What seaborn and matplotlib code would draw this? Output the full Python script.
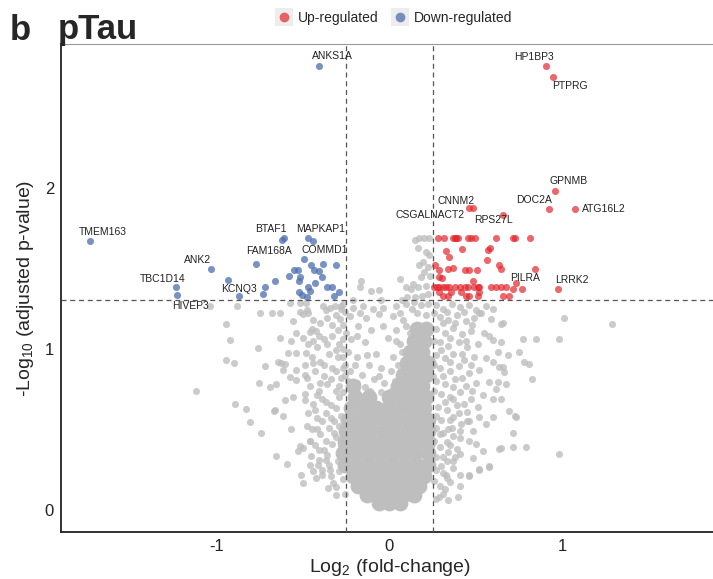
import pandas as pd
import seaborn as sns
import matplotlib.pyplot as plt
from matplotlib.lines import Line2D
from matplotlib.patches import Rectangle

sns.set_style("white")
plt.rcParams['font.family'] = ['Liberation Sans', 'DejaVu Sans']
plt.rcParams['mathtext.fontset'] = 'custom'
plt.rcParams['mathtext.rm'] = 'Liberation Sans'
plt.rcParams['axes.unicode_minus'] = False

# ---- data ----
# dense grey core of non-significant genes
core_x = [-0.06, 0.0, 0.06,
          -0.13, -0.06, 0.01, 0.08, 0.14,
          -0.18, -0.11, -0.04, 0.03, 0.10, 0.17,
          -0.21, -0.14, -0.07, 0.0, 0.07, 0.14, 0.20,
          -0.26, -0.19, -0.12, -0.05, 0.02, 0.09, 0.16, 0.22,
          -0.27, -0.20, -0.13, -0.06, 0.01, 0.08, 0.15, 0.22,
          -0.26, -0.19, -0.12, -0.05, 0.02, 0.09, 0.16, 0.22,
          -0.25, -0.18, -0.11, -0.04, 0.03, 0.10, 0.17, 0.22,
          -0.24, -0.17, -0.10, -0.03, 0.04, 0.11, 0.18, 0.22,
          -0.22, -0.15, -0.08, -0.01, 0.06, 0.13, 0.20,
          -0.20, -0.12, 0.0, 0.07, 0.14, 0.21,
          -0.21, 0.05, 0.12, 0.19,
          0.08, 0.15, 0.21,
          0.10, 0.17, 0.22,
          0.12, 0.19,
          0.14, 0.20,
          0.16, 0.21]
core_y = [0.04, 0.04, 0.04,
          0.09, 0.09, 0.09, 0.09, 0.09,
          0.15, 0.15, 0.15, 0.15, 0.15, 0.15,
          0.21, 0.21, 0.21, 0.21, 0.21, 0.21, 0.21,
          0.28, 0.28, 0.28, 0.28, 0.28, 0.28, 0.28, 0.28,
          0.35, 0.35, 0.35, 0.35, 0.35, 0.35, 0.35, 0.35,
          0.42, 0.42, 0.42, 0.42, 0.42, 0.42, 0.42, 0.42,
          0.49, 0.49, 0.49, 0.49, 0.49, 0.49, 0.49, 0.49,
          0.56, 0.56, 0.56, 0.56, 0.56, 0.56, 0.56, 0.56,
          0.63, 0.63, 0.63, 0.63, 0.63, 0.63, 0.63,
          0.70, 0.70, 0.70, 0.70, 0.70, 0.70,
          0.77, 0.77, 0.77, 0.77,
          0.84, 0.84, 0.84,
          0.91, 0.91, 0.91,
          0.98, 0.98,
          1.05, 1.05,
          1.12, 1.12]

# scattered grey points
grey_x = [-1.117, -1.04, -0.944, -0.925, -0.944, -0.900, -0.880, -0.896,
          -0.828, -0.805, -0.761, -0.757, -0.746, -0.751, -0.719, -0.694,
          -0.678, -0.636, -0.646, -0.626, -0.603, -0.636, -0.617, -0.655,
          -0.670, -0.665, -0.655, -0.617, -0.607, -0.594, -0.588, -0.578,
          -0.568, -0.568, -0.559, -0.559, -0.539, -0.539, -0.539, -0.539,
          -0.578, -0.520, -0.516, -0.501, -0.501, -0.501, -0.491, -0.491,
          -0.482, -0.482, -0.472, -0.462, -0.443, -0.424, -0.520, -0.510,
          -0.501, -0.462, -0.462, -0.453, -0.424, -0.414, -0.389, -0.385,
          -0.366, -0.357, -0.347, -0.347, -0.328, -0.308, -0.279, -0.530,
          -0.44, -0.40, -0.36, -0.31, -0.27, -0.42, -0.38, -0.33,
          -0.29, -0.45, -0.40, -0.35, -0.30, -0.26, -0.43, -0.38,
          -0.33, -0.28, -0.46, -0.41, -0.36, -0.31, -0.44, -0.39,
          -0.34, -0.29, -0.47, -0.42, -0.37, -0.32, -0.45, -0.40,
          -0.35, -0.31, -0.43, -0.38, -0.33, -0.41, -0.36,
          -0.48, -0.45, -0.37, -0.33, -0.28, -0.47, -0.41, -0.36, -0.31, -0.27,
          -0.49, -0.44, -0.38, -0.31, -0.27, -0.48, -0.40, -0.34, -0.29, -0.26,
          -0.49, -0.42, -0.37, -0.31, -0.28, -0.43, -0.39, -0.34, -0.29, -0.48,
          -0.42, -0.37, -0.32, -0.28, -0.46, -0.41, -0.35, -0.30, -0.44, -0.39,
          -0.34, -0.31, -0.27, -0.26, -0.29,
          -0.318, -0.270, -0.212, -0.154, -0.096, -0.039, 0.039, 0.096,
          -0.231, -0.135, -0.058, 0.019, -0.289, -0.299, -0.183, -0.106,
          -0.039, 0.039, 0.096, -0.22, -0.14, -0.01, 0.06, -0.24,
          -0.19, -0.08, 0.02, -0.12, -0.05, -0.23, -0.16, 0.01,
          -0.09, -0.03, -0.24, -0.14,
          -0.21, -0.05, 0.07, 0.13, 0.06, -0.17, -0.26, 0.08, 0.12, 0.04,
          -0.25, -0.19, -0.27, 0.07, -0.13, 0.05, -0.20, -0.27, -0.06, 0.03,
          -0.19, -0.11, -0.27, -0.05, 0.01,
          -0.164, -0.170, -0.106, -0.058, 0.062, 0.096, 0.125, 0.145,
          0.173, 0.202, 0.231, 0.164, 0.212, 0.231, 0.193, 0.173,
          0.202, 0.183, 0.212, 0.164, 0.135, 0.222, 0.190, 0.150,
          0.100, 0.235, 0.225, 0.140, 0.180, 0.220, 0.160, 0.210,
          0.655, 0.530, 0.646, 0.626, 0.684, 0.655, 0.665, 0.578,
          0.626, 0.674, 0.597, 0.646, 0.694, 0.723, 0.597, 0.617,
          0.559, 0.597, 0.578, 0.597, 0.549, 0.646, 0.588, 0.520,
          0.559, 0.597, 1.012, 0.983, 0.848, 0.771, 0.780, 0.809,
          0.825, 0.751, 0.713, 0.790, 0.713, 0.983, 0.645, 0.578,
          0.520, 0.405, 0.395, 0.462, 1.285, 0.366, 0.414, 0.462,
          0.520, 0.559, 0.482, 0.405, 0.462, 0.501, 0.539, 0.405,
          0.482, 0.366, 0.328, 0.405, 0.520, 0.578, 0.636, 0.732,
          0.289, 0.366, 0.462, 0.636,
          0.27, 0.31, 0.36, 0.41, 0.46, 0.29, 0.34, 0.39,
          0.44, 0.49, 0.27, 0.32, 0.37, 0.42, 0.47, 0.29,
          0.34, 0.40, 0.45, 0.51, 0.27, 0.32, 0.37, 0.43,
          0.49, 0.29, 0.35, 0.40, 0.46, 0.52, 0.27, 0.32,
          0.38, 0.44, 0.50, 0.30, 0.35, 0.41, 0.47, 0.54,
          0.28, 0.33, 0.39, 0.45, 0.51, 0.30, 0.34, 0.29,
          0.33, 0.37, 0.29, 0.31, 0.34, 0.30, 0.33, 0.29, 0.31,
          0.26, 0.33, 0.38, 0.43, 0.50, 0.26, 0.31, 0.35, 0.44, 0.48,
          0.26, 0.30, 0.35, 0.42, 0.47, 0.25, 0.31, 0.37, 0.42, 0.48,
          0.26, 0.32, 0.37, 0.43, 0.27, 0.35, 0.40, 0.45, 0.27, 0.31,
          0.36, 0.41, 0.26, 0.35, 0.39, 0.27, 0.33, 0.38, 0.27, 0.31,
          0.35, 0.26, 0.32, 0.27, 0.34]
grey_y = [0.738, 1.266, 1.157, 1.052, 0.931, 0.914, 1.266, 0.654,
          0.627, 0.543, 1.004, 0.788, 0.480, 1.220, 0.893, 0.763,
          1.220, 1.224, 0.920, 0.910, 0.906, 1.067, 0.868, 0.784,
          0.616, 0.621, 0.333, 0.585, 0.679, 0.285, 0.973, 0.826,
          1.046, 0.501, 1.172, 0.700, 1.099, 0.973, 0.868, 0.805,
          1.287, 1.283, 1.228, 1.214, 1.067, 0.386, 0.836, 0.721,
          0.973, 1.287, 1.220, 1.103, 1.046, 1.109, 0.396, 0.218,
          0.165, 0.281, 0.428, 0.333, 0.197, 0.281, 0.218, 1.266,
          0.312, 0.134, 0.250, 1.256, 0.165, 0.092, 1.266, 0.365,
          1.18, 1.16, 1.19, 1.21, 1.15, 1.01, 1.06, 1.08,
          1.03, 0.95, 0.92, 0.97, 0.95, 0.90, 0.86, 0.83,
          0.88, 0.82, 0.77, 0.74, 0.78, 0.74, 0.66, 0.69,
          0.65, 0.70, 0.60, 0.57, 0.60, 0.55, 0.50, 0.47,
          0.51, 0.45, 0.40, 0.37, 0.41, 0.31, 0.34,
          1.24, 1.12, 1.24, 1.15, 1.25, 1.03, 1.08, 1.03, 0.99, 1.06,
          0.90, 0.91, 0.90, 0.86, 0.95, 0.82, 0.79, 0.81, 0.77, 0.84,
          0.68, 0.71, 0.67, 0.63, 0.58, 0.62, 0.55, 0.57, 0.52, 0.52,
          0.50, 0.43, 0.48, 0.40, 0.43, 0.37, 0.28, 0.30, 0.24, 0.25,
          0.21, 0.14, 0.19, 0.10, 0.24,
          1.266, 1.277, 1.256, 1.266, 1.245, 1.256, 1.266, 1.277,
          1.203, 1.193, 1.214, 1.203, 1.182, 1.119, 1.140, 1.119,
          1.140, 1.119, 1.140, 1.06, 1.04, 1.07, 1.03, 0.98,
          0.95, 0.97, 0.95, 0.90, 0.88, 0.86, 0.84, 0.86,
          0.81, 0.79, 0.80, 0.76,
          1.30, 1.30, 1.30, 1.25, 1.22, 1.22, 1.23, 1.18, 1.10, 1.05,
          1.10, 1.08, 1.00, 0.98, 0.96, 0.90, 0.90, 0.88, 0.83, 0.80,
          0.79, 0.74, 0.73, 0.73, 0.74,
          1.423, 1.382, 1.360, 1.367, 1.434, 1.382, 1.371, 1.675,
          1.686, 1.686, 1.686, 1.623, 1.602, 1.580, 1.539, 1.518,
          1.476, 1.445, 1.392, 1.382, 1.403, 1.340, 1.330, 1.320,
          1.320, 1.450, 1.510, 1.290, 1.270, 1.280, 1.220, 1.210,
          1.162, 1.224, 1.040, 0.983, 0.962, 0.889, 0.857, 0.794,
          0.794, 0.784, 0.690, 0.690, 0.616, 0.585, 0.574, 0.753,
          0.941, 0.920, 1.077, 1.057, 1.099, 1.151, 1.182, 1.224,
          1.266, 1.245, 1.189, 1.061, 1.061, 1.061, 0.920, 0.904,
          0.811, 0.979, 0.474, 0.392, 0.392, 0.348, 0.386, 0.266,
          0.253, 0.145, 0.082, 0.218, 1.157, 0.574, 0.533, 0.553,
          0.574, 0.533, 0.491, 0.448, 0.428, 0.407, 0.365, 0.344,
          0.323, 0.260, 0.218, 0.218, 0.250, 0.270, 0.375, 0.574,
          0.082, 0.302, 0.208, 0.889,
          1.27, 1.25, 1.28, 1.26, 1.27, 1.20, 1.18, 1.21,
          1.17, 1.19, 1.12, 1.10, 1.13, 1.09, 1.11, 1.04,
          1.02, 1.04, 1.01, 1.03, 0.96, 0.94, 0.97, 0.93,
          0.95, 0.88, 0.86, 0.89, 0.85, 0.87, 0.80, 0.78,
          0.81, 0.77, 0.79, 0.72, 0.70, 0.73, 0.69, 0.71,
          0.64, 0.62, 0.65, 0.61, 0.64, 0.56, 0.50, 0.47,
          0.42, 0.46, 0.39, 0.33, 0.36, 0.27, 0.20, 0.15, 0.10,
          1.22, 1.23, 1.16, 1.23, 1.24, 1.05, 1.16, 1.07, 1.05, 1.15,
          0.90, 0.99, 0.92, 0.97, 0.90, 0.83, 0.83, 0.76, 0.82, 0.74,
          0.74, 0.67, 0.69, 0.66, 0.58, 0.56, 0.60, 0.55, 0.51, 0.48,
          0.51, 0.49, 0.43, 0.40, 0.38, 0.33, 0.30, 0.33, 0.25, 0.23,
          0.17, 0.18, 0.13, 0.07, 0.06]

# up-regulated genes
up_genes = ['HP1BP3', 'PTPRG', 'GPNMB', 'DOC2A', 'ATG16L2',
            'CNNM2', 'CSGALNACT2', 'RPS27L', 'PILRA', 'LRRK2']
up_gene_x = [0.908, 0.946, 0.956, 0.925, 1.073, 0.457, 0.482, 0.657, 0.842, 0.977]
up_gene_y = [2.755, 2.690, 1.983, 1.870, 1.870, 1.872, 1.872, 1.833, 1.493, 1.371]
up_x = [0.279, 0.318, 0.366, 0.376, 0.385, 0.395, 0.453, 0.472, 0.497, 0.617, 0.713, 0.728, 0.815,
        0.324, 0.420, 0.347, 0.568, 0.582, 0.563, 0.636, 0.646, 0.266, 0.285, 0.337,
        0.370, 0.434, 0.462, 0.505, 0.289, 0.305, 0.482, 0.732, 0.765, 0.713,
        0.260, 0.274, 0.289, 0.308, 0.328, 0.347, 0.376, 0.405, 0.434, 0.453, 0.491,
        0.511, 0.520, 0.588, 0.617, 0.646, 0.675,
        0.308, 0.337, 0.443, 0.462, 0.511, 0.655, 0.694,
        0.285, 0.356, 0.414, 0.520]
up_y = [1.686, 1.686, 1.686, 1.686, 1.686, 1.686, 1.686, 1.686, 1.686, 1.686, 1.686, 1.686, 1.686,
        1.608, 1.618, 1.570, 1.612, 1.623, 1.549, 1.518, 1.493, 1.518, 1.490, 1.497,
        1.501, 1.490, 1.490, 1.490, 1.448, 1.438, 1.423, 1.407, 1.371, 1.371,
        1.381, 1.381, 1.381, 1.381, 1.381, 1.381, 1.381, 1.381, 1.381, 1.381, 1.381,
        1.381, 1.381, 1.381, 1.381, 1.381, 1.381,
        1.329, 1.329, 1.329, 1.329, 1.329, 1.329, 1.329,
        1.350, 1.350, 1.350, 1.350]

# down-regulated genes
down_genes = ['ANKS1A', 'TMEM163', 'BTAF1', 'MAPKAP1', 'FAM168A',
              'COMMD1', 'ANK2', 'TBC1D14', 'HIVEP3', 'KCNQ3']
down_gene_x = [-0.410, -1.733, -0.608, -0.472, -0.771, -0.495, -1.035, -1.237, -1.229, -0.870]
down_gene_y = [2.755, 1.667, 1.686, 1.686, 1.526, 1.560, 1.493, 1.382, 1.333, 1.330]
down_x = [-0.620, -0.441, -0.936, -0.718, -0.734, -0.665, -0.584, -0.553, -0.530,
          -0.520, -0.526, -0.470, -0.462, -0.524, -0.507, -0.478, -0.453, -0.434,
          -0.385, -0.308, -0.393, -0.430, -0.360, -0.331, -0.293, -0.322, -0.409]
down_y = [1.673, 1.671, 1.430, 1.382, 1.340, 1.423, 1.449, 1.490, 1.490,
          1.445, 1.420, 1.386, 1.360, 1.350, 1.335, 1.320, 1.518, 1.490,
          1.528, 1.518, 1.443, 1.406, 1.382, 1.382, 1.352, 1.330, 1.486]

fc_cut = 0.25
p_cut = 1.301

# label placement (offset in points, horizontal alignment)
label_pos = {
    'HP1BP3': (-9, 6.5, 'center'), 'PTPRG': (12, -7, 'center'),
    'GPNMB': (10, 6.5, 'center'), 'DOC2A': (-11, 6, 'center'),
    'ATG16L2': (5, 0, 'left'), 'CNNM2': (-9, 5, 'center'),
    'CSGALNACT2': (-31, -4.5, 'center'), 'RPS27L': (-7, -4, 'center'),
    'PILRA': (-7, -6.5, 'center'), 'LRRK2': (9.5, 6.5, 'center'),
    'ANKS1A': (10, 7, 'center'), 'TMEM163': (9, 6.5, 'center'),
    'BTAF1': (-10, 6.5, 'center'), 'MAPKAP1': (9.5, 6.5, 'center'),
    'FAM168A': (9.5, 9.5, 'center'), 'COMMD1': (15, 6, 'center'),
    'ANK2': (-9.5, 6.5, 'center'), 'TBC1D14': (-9, 6, 'center'),
    'HIVEP3': (9.5, -8, 'center'), 'KCNQ3': (0, 5, 'center'),
}

red = '#E3262C'
blue = '#4B6EAF'
grey = '#BEBEBE'

W, H = 713, 579
fig = plt.figure(figsize=(W / 100, H / 100), dpi=100)
ax = fig.add_axes([61 / W, (H - 532) / H, 657 / W, (532 - 44) / H])

sns.scatterplot(x=core_x, y=core_y, ax=ax, s=130, color=grey, linewidth=0, legend=False)
sns.scatterplot(x=grey_x, y=grey_y, ax=ax, s=26, color=grey, alpha=0.8, linewidth=0, legend=False)
sns.scatterplot(x=down_x + down_gene_x, y=down_y + down_gene_y, ax=ax, s=26,
                color=blue, alpha=0.75, linewidth=0, legend=False)
sns.scatterplot(x=up_x + up_gene_x, y=up_y + up_gene_y, ax=ax, s=26,
                color=red, alpha=0.7, linewidth=0, legend=False)

for v in (-fc_cut, fc_cut):
    ax.axvline(v, color='#555555', lw=0.9, dashes=(4, 3), zorder=5)
ax.axhline(p_cut, color='#555555', lw=0.9, dashes=(4, 3), zorder=5)

for genes, gx, gy in ((up_genes, up_gene_x, up_gene_y), (down_genes, down_gene_x, down_gene_y)):
    for g, x, y in zip(genes, gx, gy):
        dx, dy, ha = label_pos[g]
        ax.annotate(g, (x, y), xytext=(dx, dy), textcoords='offset points',
                    ha=ha, va='center', fontsize=7.5, color='#222222', zorder=6)

ax.set_xlim(-1.9, 1.9)
ax.set_ylim(-0.138, 2.893)
ax.set_xticks([-1, 0, 1])
ax.set_yticks([0, 1, 2])
ax.tick_params(axis='both', labelsize=12, length=3, width=0.8, color='#333333',
               labelcolor='#222222', direction='out', pad=2)
ax.set_xlabel(r'Log$_\mathregular{2}$ (fold-change)', fontsize=14, labelpad=2)
ax.set_ylabel(r'-Log$_\mathregular{10}$ (adjusted p-value)', fontsize=14, labelpad=6)

ax.spines['right'].set_visible(False)
ax.spines['left'].set_linewidth(1.3)
ax.spines['bottom'].set_linewidth(1.3)
ax.spines['left'].set_color('#222222')
ax.spines['bottom'].set_color('#222222')
ax.spines['top'].set_linewidth(0.8)
ax.spines['top'].set_color('#9A9A9A')

fig.text(10 / W, 1 - 30 / H, 'b', fontsize=25, fontweight='bold', va='center')
fig.text(58 / W, 1 - 30 / H, 'pTau', fontsize=25, fontweight='bold', va='center')

handles = [Line2D([], [], marker='o', ls='', color=red, alpha=0.7, markersize=7, mec='none'),
           Line2D([], [], marker='o', ls='', color=blue, alpha=0.75, markersize=7, mec='none')]
leg = fig.legend(handles, ['Up-regulated', 'Down-regulated'], loc='center',
                 bbox_to_anchor=(394 / W, 1 - 18 / H), ncol=2, frameon=False,
                 fontsize=10, handletextpad=0.4, columnspacing=0.9, handlelength=1.2)

fig.canvas.draw()
r = fig.canvas.get_renderer()
for h in leg.legend_handles:
    bb = h.get_window_extent(r)
    cx, cy = (bb.x0 + bb.x1) / 2, (bb.y0 + bb.y1) / 2
    fig.add_artist(Rectangle(((cx - 9) / W, (cy - 9) / H), 18 / W, 18 / H,
                             transform=fig.transFigure, facecolor='#EDEDED',
                             edgecolor='none', zorder=0))

fig.savefig('out.png', dpi=100)
